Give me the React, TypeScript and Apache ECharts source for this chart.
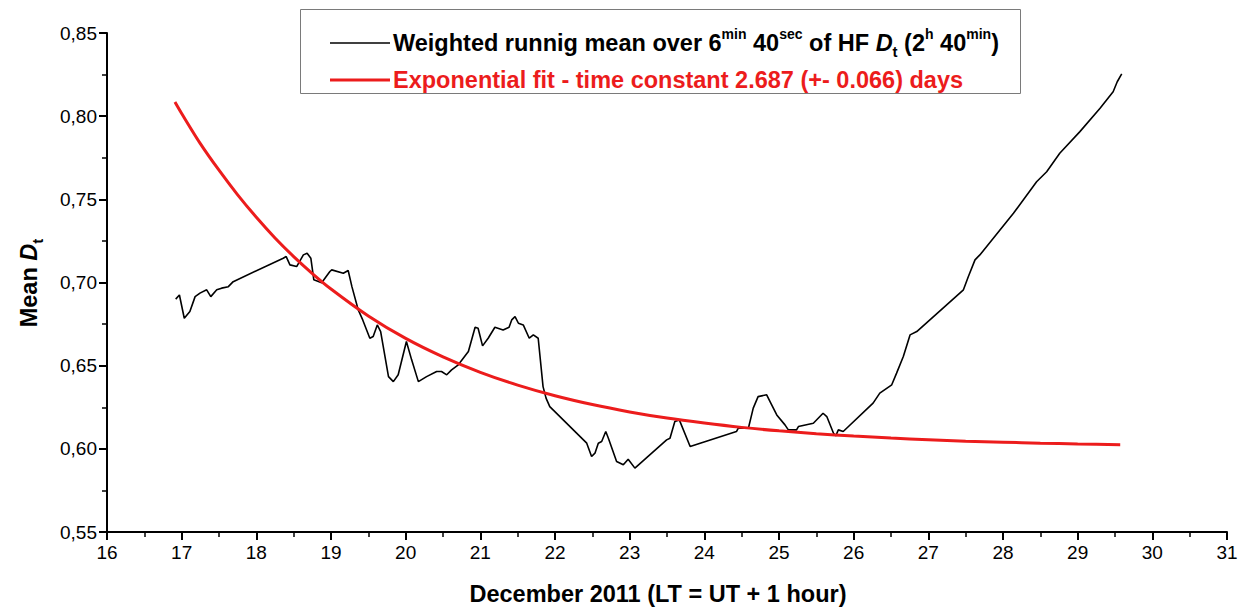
import React, { useEffect, useRef } from "react";
import * as echarts from "echarts";

// Weighted running mean of the HF D_t index (days of December 2011, local time)
const runningMeanDays = [
  16.92, 16.97, 17.035, 17.11, 17.18, 17.245, 17.335, 17.39, 17.47, 17.535,
  17.625, 17.69, 18.36, 18.4, 18.45, 18.54, 18.63, 18.68, 18.73, 18.77,
  18.875, 18.985, 19.01, 19.165, 19.23, 19.28, 19.365, 19.425, 19.52, 19.565,
  19.62, 19.665, 19.77, 19.835, 19.9, 20.01, 20.08, 20.17, 20.28, 20.415,
  20.48, 20.55, 20.615, 20.705, 20.84, 20.93, 20.97, 21.03, 21.105, 21.195,
  21.305, 21.385, 21.42, 21.465, 21.51, 21.575, 21.655, 21.71, 21.775, 21.84,
  21.88, 21.93, 22.425, 22.49, 22.535, 22.58, 22.625, 22.68, 22.715, 22.825,
  22.915, 22.98, 23.07, 23.495, 23.54, 23.605, 23.665, 23.81, 24.43, 24.455,
  24.59, 24.655, 24.72, 24.835, 24.88, 24.97, 25.08, 25.125, 25.235, 25.26,
  25.46, 25.525, 25.59, 25.64, 25.73, 25.76, 25.795, 25.86, 26.26, 26.35,
  26.51, 26.575, 26.665, 26.755, 26.845, 27.47, 27.535, 27.625, 27.69, 28.14,
  28.45, 28.585, 28.76, 29.03, 29.3, 29.475, 29.53, 29.59,
];
const runningMeanValues = [
  0.69, 0.6925, 0.6785, 0.6825, 0.6915, 0.6936, 0.6956, 0.6915, 0.6956, 0.6966,
  0.6975, 0.7005, 0.7146, 0.7156, 0.7106, 0.7096, 0.7166, 0.7176, 0.7146, 0.7016,
  0.6999, 0.7066, 0.7076, 0.7056, 0.7072, 0.6975, 0.6835, 0.6775, 0.6665, 0.6675,
  0.6745, 0.6705, 0.6434, 0.6404, 0.6445, 0.6645, 0.6535, 0.6404, 0.6434, 0.6465,
  0.6465, 0.6445, 0.6475, 0.6505, 0.6585, 0.6731, 0.6725, 0.6619, 0.6665, 0.6731,
  0.6715, 0.6731, 0.6775, 0.6795, 0.6755, 0.6745, 0.6665, 0.6685, 0.6665, 0.6374,
  0.6305, 0.6254, 0.6034, 0.5954, 0.5974, 0.6034, 0.6044, 0.6104, 0.6064, 0.5924,
  0.5904, 0.5938, 0.5884, 0.6054, 0.6064, 0.6164, 0.6174, 0.6014, 0.6104, 0.6124,
  0.6124, 0.6245, 0.6314, 0.6325, 0.6284, 0.6204, 0.6144, 0.6114, 0.6114, 0.6134,
  0.6154, 0.6184, 0.6214, 0.6194, 0.6094, 0.6078, 0.6114, 0.6104, 0.6275, 0.6335,
  0.6385, 0.6455, 0.6555, 0.6685, 0.6705, 0.6956, 0.7035, 0.7136, 0.7166, 0.7416,
  0.7606, 0.7666, 0.7777, 0.7907, 0.8047, 0.8147, 0.8207, 0.8254,
];

// Exponential fit curve
const fitDays = [
  16.91, 17.0, 17.25, 17.5, 17.75, 18.0, 18.25, 18.5, 18.75, 19.0, 19.5, 20.0,
  20.5, 21.0, 21.5, 22.0, 22.5, 23.0, 23.5, 24.0, 24.5, 25.0, 25.5, 26.0, 26.5,
  27.0, 27.5, 28.0, 28.5, 29.0, 29.57,
];
const fitValues = [
  0.8085, 0.8016, 0.7835, 0.7675, 0.7527, 0.7392, 0.7268, 0.7156, 0.7054, 0.6961,
  0.6799, 0.6664, 0.6553, 0.646, 0.6383, 0.6319, 0.6266, 0.6222, 0.6185, 0.6155,
  0.6129, 0.6108, 0.6091, 0.6077, 0.6065, 0.6055, 0.6046, 0.604, 0.6034, 0.6029,
  0.6025,
];

const xRange = [16, 31];
const yRange = [0.55, 0.85];
const xStep = 1;
const yStep = 0.05;

const legendRunningMean =
  "Weighted runnig mean over 6{sup|min} 40{sup|sec} of HF {it|D}{sub|t} (2{sup|h} 40{sup|min})";
const legendFit = "Exponential fit - time constant 2.687 (+- 0.066) days";
const xTitle = "December 2011 (LT = UT + 1 hour)";
const yTitle = "Mean {it|D}{sub|t}";

const FONT = "'Liberation Sans', Arial, Helvetica, sans-serif";
const RED = "#ec1c1c";
const TITLE_SIZE = 23.5;

const zip = (xs: number[], ys: number[]) => xs.map((x, i) => [x, ys[i]]);

const scriptStyles = (fill: string, size: number) => ({
  sup: { fontSize: 14, fontWeight: "bold", fontFamily: FONT, fill, verticalAlign: "top", lineHeight: 16 },
  sub: { fontSize: 15, fontWeight: "bold", fontFamily: FONT, fill, verticalAlign: "bottom", lineHeight: 16 },
  it: { fontSize: size, fontWeight: "bold", fontStyle: "italic", fontFamily: FONT, fill, lineHeight: 32 },
});

export default function App() {
  const ref = useRef<HTMLDivElement>(null);

  useEffect(() => {
    if (!ref.current) return;
    const chart = echarts.init(ref.current, undefined, { renderer: "svg" });

    const axisCommon = {
      type: "value" as const,
      axisLine: { show: true, onZero: false, lineStyle: { color: "#000", width: 2 } },
      axisTick: { show: true, length: 8, lineStyle: { color: "#000", width: 2 } },
      minorTick: { show: true, splitNumber: 2, length: 5, lineStyle: { color: "#000", width: 1.5 } },
      splitLine: { show: false },
      minorSplitLine: { show: false },
      axisLabel: { color: "#000", fontSize: 19, fontFamily: FONT },
    };

    chart.setOption({
      animation: false,
      backgroundColor: "#fff",
      grid: { left: 107, right: 20, top: 33, bottom: 75, containLabel: false },
      xAxis: {
        ...axisCommon,
        min: xRange[0],
        max: xRange[1],
        interval: xStep,
        axisLabel: { ...axisCommon.axisLabel, margin: 11 },
      },
      yAxis: {
        ...axisCommon,
        min: yRange[0],
        max: yRange[1],
        interval: yStep,
        axisLabel: {
          ...axisCommon.axisLabel,
          margin: 10,
          formatter: (v: number) => v.toFixed(2).replace(".", ","),
        },
      },
      series: [
        {
          type: "line",
          data: zip(runningMeanDays, runningMeanValues),
          showSymbol: false,
          lineStyle: { color: "#000", width: 1.6 },
          z: 2,
        },
        {
          type: "line",
          data: zip(fitDays, fitValues),
          showSymbol: false,
          smooth: 0.3,
          lineStyle: { color: RED, width: 3 },
          z: 3,
        },
      ],
      graphic: [
        {
          type: "rect",
          shape: { x: 300.5, y: 9.5, width: 720, height: 84 },
          style: { fill: "#fff", stroke: "#7a7a7a", lineWidth: 1 },
          z: 10,
        },
        {
          type: "line",
          shape: { x1: 330, y1: 43, x2: 390, y2: 43 },
          style: { stroke: "#000", lineWidth: 1.6 },
          z: 11,
        },
        {
          type: "text",
          x: 393,
          y: 43,
          z: 11,
          style: {
            text: legendRunningMean,
            fontSize: TITLE_SIZE,
            fontWeight: "bold",
            fontFamily: FONT,
            fill: "#000",
            lineHeight: 32,
            verticalAlign: "middle",
            align: "left",
            rich: scriptStyles("#000", TITLE_SIZE),
          },
        },
        {
          type: "line",
          shape: { x1: 330, y1: 80, x2: 390, y2: 80 },
          style: { stroke: RED, lineWidth: 3 },
          z: 11,
        },
        {
          type: "text",
          x: 393,
          y: 80,
          z: 11,
          style: {
            text: legendFit,
            fontSize: TITLE_SIZE,
            fontWeight: "bold",
            fontFamily: FONT,
            fill: RED,
            verticalAlign: "middle",
            align: "left",
          },
        },
        {
          type: "text",
          x: 658,
          y: 594,
          style: {
            text: xTitle,
            fontSize: TITLE_SIZE,
            fontWeight: "bold",
            fontFamily: FONT,
            fill: "#000",
            align: "center",
            verticalAlign: "middle",
          },
        },
        {
          type: "text",
          x: 29,
          y: 283,
          rotation: Math.PI / 2,
          style: {
            text: yTitle,
            fontSize: TITLE_SIZE,
            fontWeight: "bold",
            fontFamily: FONT,
            fill: "#000",
            lineHeight: 32,
            align: "center",
            verticalAlign: "middle",
            rich: scriptStyles("#000", TITLE_SIZE),
          },
        },
      ],
    });

    return () => chart.dispose();
  }, []);

  return (
    <div
      ref={ref}
      style={{ position: "absolute", left: 0, top: 0, width: 1247, height: 607 }}
    />
  );
}
